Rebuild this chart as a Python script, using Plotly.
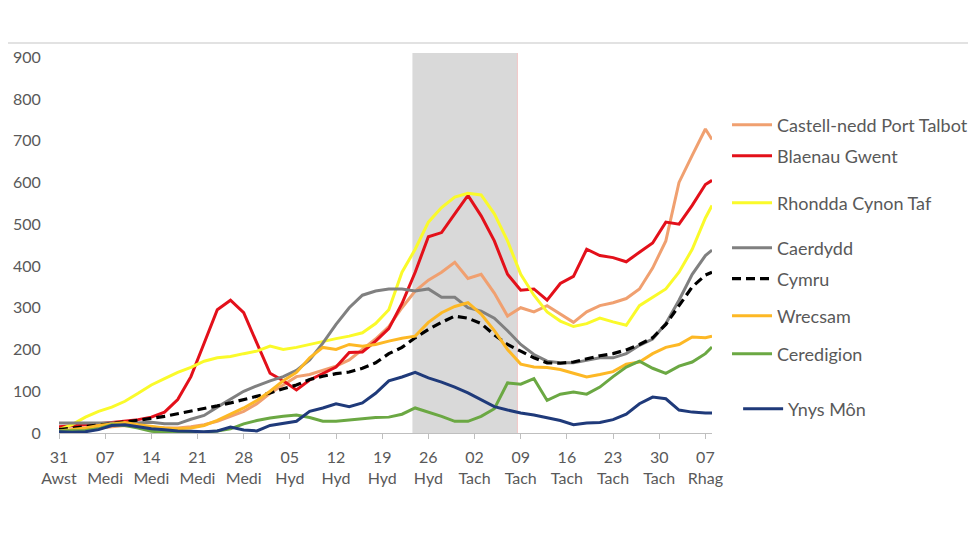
import pandas as pd
import plotly.graph_objects as go

# Dates: every 2 days from 31 Aug 2020 to 7 Dec 2020, plus 8 Dec
dates = list(pd.date_range("2020-08-31", "2020-12-07", freq="2D")) + [pd.Timestamp("2020-12-08")]

castell_nedd = [5, 5, 8, 12, 15, 18, 16, 14, 12, 12,
                15, 20, 28, 40, 52, 70, 95, 115, 135, 140,
                150, 160, 175, 200, 225, 255, 300, 340, 366, 385,
                409, 370, 380, 335, 280, 300, 290, 305, 285, 265,
                290, 305, 312, 322, 345, 395, 460, 600, 665, 728,
                703]
blaenau_gwent = [15, 17, 20, 22, 25, 28, 32, 38, 50, 80,
                 135, 215, 295, 318, 288, 215, 143, 125, 103, 127,
                 143, 158, 193, 194, 220, 250, 310, 385, 470, 480,
                 525, 569, 520, 460, 380, 342, 345, 318, 358, 375,
                 440, 425, 420, 410, 433, 455, 505, 500, 545, 595,
                 605]
rhondda = [8, 20, 38, 52, 62, 76, 95, 115, 130, 145,
           157, 172, 180, 183, 190, 196, 208, 200, 205, 212,
           220, 226, 232, 240, 262, 295, 385, 440, 505, 540,
           565, 574, 570, 525, 460, 380, 330, 290, 268, 255,
           262, 275, 266, 258, 305, 325, 345, 385, 440, 515,
           545]
caerdydd = [24, 24, 24, 25, 24, 23, 25, 26, 22, 22,
            33, 42, 62, 80, 100, 113, 125, 135, 150, 175,
            215, 260, 300, 330, 340, 345, 345, 340, 345, 325,
            325, 300, 292, 275, 245, 212, 188, 172, 168, 168,
            174, 180, 180, 190, 210, 225, 262, 318, 380, 425,
            438]
cymru = [8, 12, 16, 19, 22, 26, 30, 35, 40, 46,
         52, 58, 65, 72, 80, 88, 96, 106, 115, 128,
         136, 142, 146, 155, 168, 190, 205, 228, 248, 265,
         280, 275, 262, 235, 212, 196, 180, 168, 167, 170,
         178, 185, 190, 199, 212, 228, 260, 305, 350, 378,
         385]
wrecsam = [5, 8, 12, 18, 22, 25, 20, 16, 12, 10,
           12, 18, 30, 45, 60, 78, 100, 125, 145, 180,
           205, 200, 212, 208, 212, 220, 227, 232, 265, 288,
           303, 312, 285, 245, 200, 165, 158, 157, 152, 143,
           134, 140, 147, 165, 170, 190, 205, 212, 230, 228,
           232]
ceredigion = [5, 6, 6, 10, 20, 18, 12, 4, 2, 2,
              1, 2, 5, 10, 22, 30, 36, 40, 43, 37,
              28, 28, 31, 35, 37, 38, 45, 60, 50, 40,
              28, 28, 40, 58, 120, 117, 130, 78, 93, 98,
              93, 110, 135, 158, 172, 155, 143, 160, 170, 190,
              206]
ynys_mon = [3, 2, 3, 8, 18, 20, 15, 10, 8, 5,
            4, 3, 5, 14, 7, 5, 18, 23, 28, 52,
            60, 70, 63, 72, 95, 125, 134, 145, 132, 122,
            110, 96, 79, 63, 55, 48, 43, 36, 30, 20,
            24, 25, 32, 45, 70, 86, 82, 55, 50, 48,
            48]

series_names = ["Castell-nedd Port Talbot", "Blaenau Gwent", "Rhondda Cynon Taf",
                "Caerdydd", "Cymru", "Wrecsam", "Ceredigion", "Ynys Môn"]
series_values = [castell_nedd, blaenau_gwent, rhondda, caerdydd, cymru,
                 wrecsam, ceredigion, ynys_mon]

tick_dates = list(pd.date_range("2020-08-31", "2020-12-07", freq="7D"))
tick_labels = ["31<br>Awst", "07<br>Medi", "14<br>Medi", "21<br>Medi", "28<br>Medi",
               "05<br>Hyd", "12<br>Hyd", "19<br>Hyd", "26<br>Hyd", "02<br>Tach",
               "09<br>Tach", "16<br>Tach", "23<br>Tach", "30<br>Tach", "07<br>Rhag"]

firebreak_start = "2020-10-23 14:00"
firebreak_end = "2020-11-08 12:00"

colors = ["#F0A070", "#E3101A", "#FAFA2A", "#808080", "#000000",
          "#FDB825", "#6BA843", "#1F3A7A"]
legend_y = [0.8105, 0.7289, 0.6053, 0.4868, 0.4053, 0.3079, 0.2079, 0.0632]
legend_x = [1.023, 1.023, 1.023, 1.023, 1.023, 1.023, 1.023, 1.040]

FONT = "Lato, 'Open Sans', sans-serif"
TXT = "#595959"

fig = go.Figure()
for i, (name, vals) in enumerate(zip(series_names, series_values)):
    lg = "legend" if i == 0 else f"legend{i+1}"
    line = dict(color=colors[i], width=3)
    if name == "Cymru":
        line = dict(color=colors[i], width=3.2, dash="9px,5px")
    fig.add_trace(go.Scatter(x=dates, y=vals, mode="lines", name=name,
                             line=line, legend=lg, showlegend=True))

layout_legends = {}
for i in range(8):
    key = "legend" if i == 0 else f"legend{i+1}"
    layout_legends[key] = dict(x=legend_x[i], y=legend_y[i], xanchor="left",
                               yanchor="middle", bgcolor="rgba(0,0,0,0)",
                               font=dict(family=FONT, size=18, color=TXT),
                               itemwidth=40)

fig.update_layout(
    width=976, height=549,
    margin=dict(l=51, r=272, t=45, b=124, autoexpand=False),
    showlegend=True,
    paper_bgcolor="white", plot_bgcolor="white",
    font=dict(family=FONT, color=TXT),
    **layout_legends,
    shapes=[
        dict(type="rect", xref="x", yref="y", x0=firebreak_start, x1=firebreak_end,
             y0=0, y1=910, fillcolor="#D9D9D9", line=dict(width=0), layer="below"),
        dict(type="line", xref="x", yref="y", x0=firebreak_end, x1=firebreak_end,
             y0=0, y1=910, line=dict(color="#F2C6C6", width=1), layer="below"),
        dict(type="line", xref="paper", yref="paper", x0=-0.083, x1=1.41,
             y0=1.026, y1=1.026, line=dict(color="#D9D9D9", width=1.5)),
    ],
)
fig.update_xaxes(range=["2020-08-31", "2020-12-08"], tickvals=tick_dates, ticktext=tick_labels,
                 showgrid=False, showline=True, linecolor="#BFBFBF", linewidth=1,
                 ticks="outside", ticklen=5, tickcolor="#BFBFBF", ticklabelstandoff=5,
                 tickfont=dict(family=FONT, size=16, color=TXT), zeroline=False)
fig.update_yaxes(range=[0, 910], tickvals=list(range(0, 1000, 100)), showgrid=False,
                 showline=False, zeroline=False, ticks="outside", ticklen=14,
                 tickcolor="rgba(0,0,0,0)", tickfont=dict(family=FONT, size=16, color=TXT))

fig.write_html("out.html")
